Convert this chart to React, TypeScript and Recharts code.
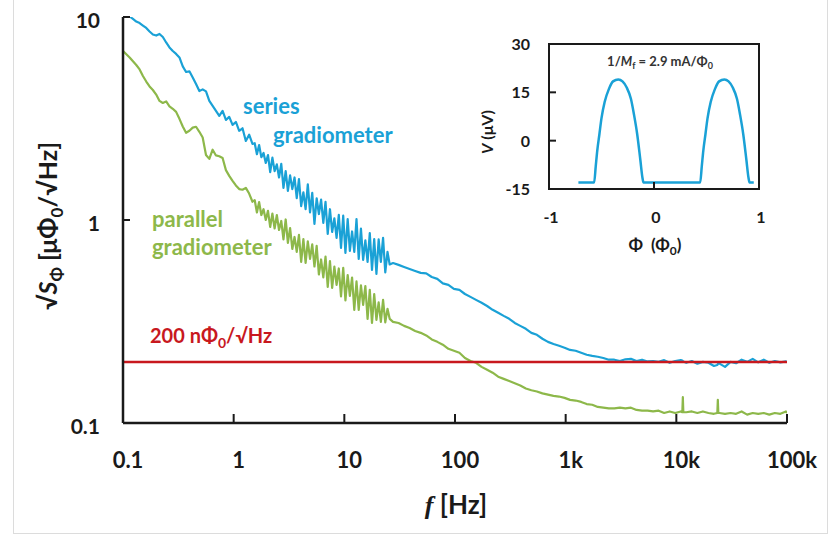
import { LineChart, Line, XAxis, YAxis, ReferenceLine, ReferenceArea } from "recharts";

// frequency axis [Hz]
const freq = [
  0.1, 0.1072, 0.1148, 0.123, 0.1318, 0.1413, 0.1514, 0.1622, 0.1738, 0.1862,
  0.1995, 0.2138, 0.2291, 0.2455, 0.263, 0.2818, 0.302, 0.3236, 0.3467, 0.3715,
  0.3981, 0.4266, 0.4571, 0.4898, 0.5248, 0.5623, 0.6026, 0.6457, 0.6918, 0.7413,
  0.7943, 0.8511, 0.912, 0.9772, 1.047, 1.122, 1.202, 1.288, 1.38, 1.479,
  1.549, 1.622, 1.698, 1.778, 1.862, 1.95, 2.042, 2.138, 2.239, 2.344,
  2.455, 2.57, 2.692, 2.818, 2.951, 3.09, 3.236, 3.388, 3.548, 3.715,
  3.89, 4.074, 4.266, 4.467, 4.677, 4.898, 5.129, 5.37, 5.623, 5.888,
  6.166, 6.457, 6.761, 7.079, 7.413, 7.762, 8.128, 8.511, 8.913, 9.333,
  9.772, 10.23, 10.72, 11.22, 11.75, 12.3, 12.88, 13.49, 14.13, 14.79,
  15.49, 16.22, 16.98, 17.78, 18.62, 19.5, 20.42, 21.38, 22.39, 23.44,
  24.55, 25.7,
  27.54, 30.9, 34.67, 38.9, 43.65, 48.98, 54.95, 61.66, 69.18, 77.62,
  87.1, 97.72, 109.6, 123, 138, 154.9, 173.8, 195, 218.8, 245.5,
  275.4, 309, 346.7, 389, 436.5, 489.8, 549.5, 616.6, 691.8, 776.2,
  871, 977.2, 1096, 1230, 1380, 1549, 1738, 1950, 2188, 2455,
  2754, 3090, 3467, 3890, 4365, 4898, 5495, 6166, 6918, 7762,
  8710, 9772, 10960, 11330, 11450, 11570, 12300, 13800, 15490, 17380,
  19500, 21880, 23470, 23710, 23960, 24550, 27540, 30900, 34670, 38900,
  43650, 48980, 54950, 61660, 69180, 77620, 87100, 97720, 100000,
];

// series gradiometer noise [uPhi0/sqrt(Hz)]
const seriesGrad = [
  10.58, 10.35, 10.06, 9.78, 9.5, 9.34, 9.08, 8.83, 8.48, 8.2,
  8.1, 8.25, 7.97, 7.49, 7.08, 6.8, 6.58, 6.32, 5.71, 5.36,
  5.4, 5.04, 4.68, 4.32, 4.4, 4.3, 3.86, 3.65, 3.45, 3.26,
  3.45, 3.11, 3.22, 2.94, 3.04, 2.75, 2.83, 2.45, 2.63, 2.37,
  2.39, 2.11, 2.34, 2.04, 2.14, 1.91, 2.09, 1.72, 2.03, 1.74,
  1.88, 1.62, 1.89, 1.44, 1.74, 1.39, 1.66, 1.42, 1.62, 1.28,
  1.59, 1.17, 1.37, 1.13, 1.5, 1.09, 1.36, 0.956, 1.28, 1.07,
  1.26, 0.967, 1.23, 0.853, 1.13, 0.873, 1.02, 0.816, 1.06, 0.728,
  1.05, 0.688, 1.01, 0.704, 0.878, 0.696, 1.01, 0.643, 0.908, 0.636,
  0.793, 0.621, 0.863, 0.568, 0.806, 0.542, 0.802, 0.621, 0.816, 0.552,
  0.696, 0.604,
  0.614, 0.601, 0.587, 0.574, 0.561, 0.549, 0.546, 0.524, 0.513, 0.487,
  0.479, 0.458, 0.4525, 0.432, 0.418, 0.404, 0.391, 0.377, 0.361, 0.349,
  0.337, 0.326, 0.311, 0.301, 0.291, 0.278, 0.272, 0.26, 0.251, 0.245,
  0.24, 0.235, 0.229, 0.227, 0.222, 0.217, 0.214, 0.212, 0.209, 0.205,
  0.205, 0.202, 0.206, 0.207, 0.202, 0.205, 0.201, 0.202, 0.2, 0.204,
  0.198, 0.202, 0.204, 0.203, 0.202, 0.201, 0.198, 0.202, 0.196, 0.2,
  0.198, 0.191, 0.193, 0.195, 0.196, 0.196, 0.189, 0.2, 0.197, 0.205,
  0.2, 0.207, 0.199, 0.205, 0.198, 0.202, 0.199, 0.201, 0.2,
];

// parallel gradiometer noise [uPhi0/sqrt(Hz)]
const parallelGrad = [
  6.8, 6.55, 6.32, 6.05, 5.8, 5.52, 5.12, 4.81, 4.55, 4.37,
  4.15, 3.86, 3.77, 3.84, 3.63, 3.53, 3.41, 3.15, 2.89, 2.69,
  2.75, 2.85, 2.88, 2.72, 2.55, 2.09, 2.0, 2.22, 2.08, 2.06,
  2.02, 1.76, 1.65, 1.56, 1.48, 1.42, 1.41, 1.44, 1.35, 1.23,
  1.254, 1.089, 1.226, 1.058, 1.13, 1.0, 1.11, 0.924, 1.076, 0.908,
  1.058, 0.893, 0.989, 0.802, 1.006, 0.771, 0.913, 0.72, 0.825, 0.696,
  0.844, 0.621, 0.806, 0.614, 0.784, 0.643, 0.758, 0.59, 0.745, 0.539,
  0.639, 0.521, 0.661, 0.468, 0.628, 0.463, 0.59, 0.479, 0.577, 0.42,
  0.581, 0.402, 0.536, 0.423, 0.521, 0.361, 0.498, 0.361, 0.476, 0.382,
  0.473, 0.326, 0.453, 0.311, 0.432, 0.322, 0.393, 0.315, 0.404, 0.313,
  0.365, 0.326,
  0.315, 0.311, 0.301, 0.294, 0.284, 0.278, 0.27, 0.258, 0.251, 0.243,
  0.232, 0.227, 0.222, 0.209, 0.202, 0.198, 0.189, 0.183, 0.177, 0.169,
  0.165, 0.161, 0.157, 0.153, 0.148, 0.145, 0.143, 0.14, 0.138, 0.136,
  0.135, 0.133, 0.13, 0.129, 0.127, 0.124, 0.123, 0.12, 0.119, 0.118,
  0.118, 0.119, 0.118, 0.119, 0.116, 0.115, 0.115, 0.114, 0.115, 0.112,
  0.114, 0.112, 0.114, 0.113, 0.134, 0.113, 0.113, 0.114, 0.112, 0.114,
  0.112, 0.111, 0.112, 0.13, 0.112, 0.112, 0.111, 0.112, 0.111, 0.114,
  0.11, 0.112, 0.111, 0.112, 0.11, 0.112, 0.111, 0.114, 0.112,
];

const noiseLevel = 0.2;
const freqTicks = [0.1, 1, 10, 100, 1000, 10000, 100000];
const topTicks = [0.1, 1.585, 25.12, 398.1, 6310, 100000];
const noiseTicks = [0.1, 1, 10];
const rightTicks = [1];

// inset: V(Phi)
const phi = [
  -0.72, -0.57, -0.555, -0.54, -0.52, -0.5, -0.47, -0.43, -0.39, -0.34,
  -0.3, -0.26, -0.22, -0.19, -0.16, -0.13, -0.11, -0.1,
  0.44, 0.455, 0.47, 0.49, 0.51, 0.54, 0.58, 0.62, 0.67, 0.71,
  0.75, 0.79, 0.82, 0.85, 0.88, 0.9, 0.91, 0.95,
];
const volt = [
  -13, -13, -8, -3, 2, 7, 12, 16, 18.4, 19,
  18.4, 16.5, 13, 8, 2, -6, -11.5, -13,
  -13, -8, -3, 2, 7, 12, 16, 18.4, 19, 18.4,
  16.5, 13, 8, 2, -6, -11.5, -13, -13,
];
const phiTicks = [-1, 0, 1];
const voltTicks = [-15, 0, 15, 30];

const data = freq.map((f, i) => ({ f, series: seriesGrad[i], parallel: parallelGrad[i] }));
const insetData = phi.map((p, i) => ({ phi: p, v: volt[i] }));

const BLUE = "#1aa1d6";
const GREEN = "#8db84a";
const RED = "#c8181e";
const INK = "#1a1a1a";
const FONT = "Lato, 'Open Sans', sans-serif";

const fmtFreq = (v: number) => (v >= 1000 ? `${v / 1000}k` : `${v}`);

const BottomTick = (props: any) => {
  const { x, y, payload } = props;
  return (
    <g>
      <line x1={x} x2={x} y1={y} y2={y - 9} stroke={INK} strokeWidth={2} />
      <text x={x + 5} y={y + 45} textAnchor="middle" fontSize={22} fontWeight={700} fill={INK} fontFamily={FONT}>
        {fmtFreq(payload.value)}
      </text>
    </g>
  );
};

const LeftTick = (props: any) => {
  const { x, y, payload } = props;
  return (
    <g>
      <line x1={x} x2={x + 7} y1={y} y2={y} stroke={INK} strokeWidth={2} />
      <text x={x - 23} y={y + 11} textAnchor="end" fontSize={21} fontWeight={700} fill={INK} fontFamily={FONT}>
        {payload.value}
      </text>
    </g>
  );
};

const TopTick = (props: any) => {
  const { x, y } = props;
  return <line x1={x} x2={x} y1={y} y2={y + 6} stroke={INK} strokeWidth={2} />;
};

const RightTick = (props: any) => {
  const { x, y } = props;
  return <line x1={x} x2={x - 5} y1={y} y2={y} stroke={INK} strokeWidth={2} />;
};

const InsetLeftTick = (props: any) => {
  const { x, y, payload } = props;
  return (
    <g>
      <line x1={x} x2={x + 7} y1={y} y2={y} stroke={INK} strokeWidth={2} />
      <text x={x - 19} y={y + 6} textAnchor="end" fontSize={16} fontWeight={700} fill={INK} fontFamily={FONT}>
        {payload.value}
      </text>
    </g>
  );
};

const InsetBottomTick = (props: any) => {
  const { x, y, payload } = props;
  return (
    <g>
      <line x1={x} x2={x} y1={y} y2={y - 7} stroke={INK} strokeWidth={2} />
      <text x={x + 2} y={y + 34} textAnchor="middle" fontSize={16} fontWeight={700} fill={INK} fontFamily={FONT}>
        {payload.value}
      </text>
    </g>
  );
};

const axisStroke = { stroke: INK, strokeWidth: 2.5 };

export default function App() {
  return (
    <div style={{ position: "absolute", left: 0, top: 0, width: 831, height: 534, background: "#fff" }}>
      <div
        style={{
          position: "absolute",
          left: 13,
          top: -1,
          width: 815,
          height: 535,
          border: "1px solid #dcdcdc",
          boxSizing: "border-box",
        }}
      />
      <div style={{ position: "absolute", left: 0, top: 0 }}>
        <LineChart width={831} height={534} data={data} margin={{ top: 17, right: 44, bottom: 0, left: 0 }}>
          <XAxis
            xAxisId="b"
            dataKey="f"
            type="number"
            scale="log"
            domain={[0.1, 100000]}
            allowDataOverflow
            ticks={freqTicks}
            interval={0}
            tick={BottomTick}
            tickLine={false}
            tickSize={0}
            tickMargin={0}
            axisLine={axisStroke}
            height={111}
          />
          <XAxis
            xAxisId="t"
            orientation="top"
            dataKey="f"
            type="number"
            scale="log"
            domain={[0.1, 100000]}
            allowDataOverflow
            ticks={topTicks}
            interval={0}
            tick={TopTick}
            tickLine={false}
            tickSize={0}
            tickMargin={0}
            axisLine={axisStroke}
            height={0}
          />
          <YAxis
            yAxisId="l"
            type="number"
            scale="log"
            domain={[0.1, 10]}
            allowDataOverflow
            ticks={noiseTicks}
            interval={0}
            tick={LeftTick}
            tickLine={false}
            tickSize={0}
            tickMargin={0}
            axisLine={axisStroke}
            width={123}
          />
          <YAxis
            yAxisId="r"
            orientation="right"
            type="number"
            scale="log"
            domain={[0.1, 10]}
            allowDataOverflow
            ticks={rightTicks}
            interval={0}
            tick={RightTick}
            tickLine={false}
            tickSize={0}
            tickMargin={0}
            axisLine={axisStroke}
            width={0}
          />
          <Line
            xAxisId="b"
            yAxisId="l"
            dataKey="series"
            type="linear"
            stroke={BLUE}
            strokeWidth={2.2}
            strokeLinejoin="round"
            dot={false}
            isAnimationActive={false}
          />
          <Line
            xAxisId="t"
            yAxisId="r"
            dataKey="parallel"
            type="linear"
            stroke={GREEN}
            strokeWidth={2.2}
            strokeLinejoin="round"
            dot={false}
            isAnimationActive={false}
          />
          <ReferenceLine xAxisId="b" yAxisId="l" y={noiseLevel} stroke={RED} strokeWidth={2.5} />
        </LineChart>
      </div>

      <div style={{ position: "absolute", left: 480, top: 30 }}>
        <LineChart width={300} height={230} data={insetData} margin={{ top: 14, right: 21, bottom: 0, left: 0 }}>
          <XAxis
            dataKey="phi"
            type="number"
            domain={[-1, 1]}
            ticks={phiTicks}
            interval={0}
            tick={InsetBottomTick}
            tickLine={false}
            tickSize={0}
            tickMargin={0}
            axisLine={{ stroke: INK, strokeWidth: 2 }}
            height={71}
          />
          <YAxis
            type="number"
            domain={[-15, 30]}
            ticks={voltTicks}
            interval={0}
            tick={InsetLeftTick}
            tickLine={false}
            tickSize={0}
            tickMargin={0}
            axisLine={{ stroke: INK, strokeWidth: 2 }}
            width={69}
          />
          <ReferenceArea x1={-1} x2={1} y1={-15} y2={30} fill="none" fillOpacity={0} stroke={INK} strokeWidth={2} />
          <Line
            dataKey="v"
            type="monotone"
            stroke={BLUE}
            strokeWidth={2.5}
            dot={false}
            isAnimationActive={false}
          />
        </LineChart>
      </div>

      <svg
        width={831}
        height={534}
        style={{ position: "absolute", left: 0, top: 0, pointerEvents: "none" }}
        fontFamily={FONT}
        fontWeight={700}
      >
        <text transform="translate(57,226) rotate(-90)" textAnchor="middle" fontSize={25} fill={INK}>
          √<tspan fontStyle="italic">S</tspan>
          <tspan dy={6} fontSize={17}>Φ</tspan>
          <tspan dy={-6}> [μΦ</tspan>
          <tspan dy={6} fontSize={17}>0</tspan>
          <tspan dy={-6}>/√Hz]</tspan>
        </text>
        <text x={456} y={514} textAnchor="middle" fontSize={26} fill={INK}>
          <tspan fontFamily="'Liberation Serif', serif" fontStyle="italic">f</tspan> [Hz]
        </text>

        <text x={243} y={114} fontSize={22} fill={BLUE}>series</text>
        <text x={273} y={143} fontSize={22} fill={BLUE}>gradiometer</text>
        <text x={152} y={227} fontSize={22} fill={GREEN}>parallel</text>
        <text x={152} y={255} fontSize={22} fill={GREEN}>gradiometer</text>

        <text x={150} y={343} fontSize={20} fill={RED}>
          200 nΦ<tspan dy={5} fontSize={14}>0</tspan>
          <tspan dy={-5}>/√Hz</tspan>
        </text>

        <text x={660} y={66} textAnchor="middle" fontSize={13} fill="#333">
          1/<tspan fontStyle="italic">M</tspan>
          <tspan dy={3} fontSize={9}>f</tspan>
          <tspan dy={-3}> = 2.9 mA/Φ</tspan>
          <tspan dy={3} fontSize={9}>0</tspan>
        </text>
        <text transform="translate(493,132) rotate(-90)" textAnchor="middle" fontSize={16} fill={INK}>
          <tspan fontStyle="italic">V</tspan> (μV)
        </text>
        <text x={655} y={251} textAnchor="middle" fontSize={17} fill={INK}>
          Φ<tspan dx={8}>(Φ</tspan>
          <tspan dy={4} fontSize={12}>0</tspan>
          <tspan dy={-4}>)</tspan>
        </text>
      </svg>
    </div>
  );
}
